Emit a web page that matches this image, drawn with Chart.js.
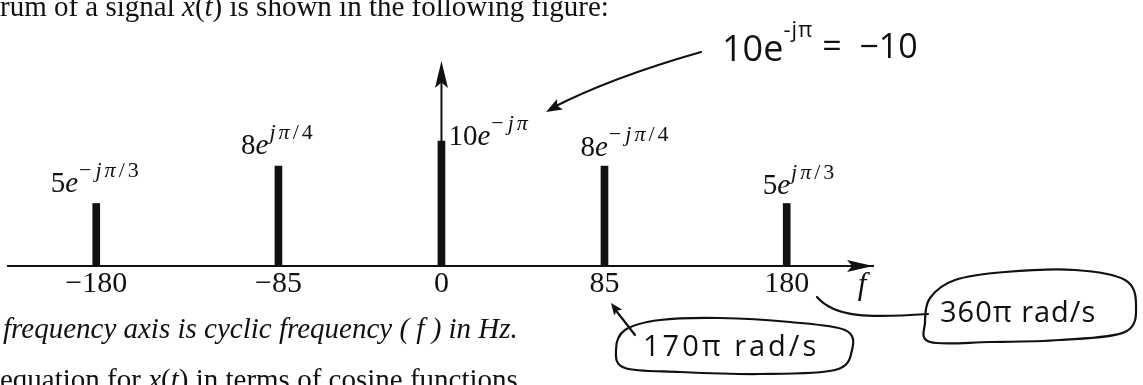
<!DOCTYPE html>
<html><head><meta charset="utf-8">
<script src="https://cdn.jsdelivr.net/npm/chart.js@4.4.1/dist/chart.umd.min.js"></script>
<style>html,body{margin:0;padding:0;background:#fff;overflow:hidden}#wrap{position:relative;width:1143px;height:385px}canvas{display:block}</style>
</head><body><div id="wrap"><canvas id="c" width="1143" height="385"></canvas></div>
<script>
// ---- data ----
const frequencies = [-180, -85, 0, 85, 180];
const magnitudes = [5, 8, 10, 8, 5];
const phases = ['−jπ/3', 'jπ/4', '−jπ', '−jπ/4', 'jπ/3'];
const tickLabels = ['−180', '−85', '0', '85', '180'];
const axisLabel = 'f';

const ink = '#111';
const serif = "'Liberation Serif','Times New Roman',serif";
const hand = "'Open Sans','DejaVu Sans',sans-serif";

function runsWidth(ctx, runs){let w=0;runs.forEach(r=>{ctx.font=r.font;w+=ctx.measureText(r.text).width+(r.gap||0);});return w;}
function drawRuns(ctx,x,y,runs,align){
  const w=runsWidth(ctx,runs);
  let cx=align==='center'?x-w/2:align==='right'?x-w:x;
  ctx.textBaseline='alphabetic';ctx.textAlign='left';
  runs.forEach(r=>{ctx.font=r.font;ctx.fillText(r.text,cx,y+(r.dy||0));cx+=ctx.measureText(r.text).width+(r.gap||0);});
}
function spaced(text,font,spacing,dy){return Array.from(text).map(ch=>({text:ch,font:font,gap:spacing,dy:dy||0}));}
function mathLabel(amp,phase){
  const runs=[{text:String(amp),font:`29px ${serif}`},{text:'e',font:`italic 29px ${serif}`,gap:1}];
  for(const ch of phase){const it=/[a-zπ]/.test(ch);runs.push({text:ch,font:`${it?'italic ':''}22px ${serif}`,dy:-15,gap:ch==='−'?4:3});}
  return runs;
}
function arrowHead(ctx,tx,ty,fx,fy,len,half){
  const a=Math.atan2(ty-fy,tx-fx);
  ctx.beginPath();ctx.moveTo(tx,ty);
  ctx.lineTo(tx-len*Math.cos(a)+half*Math.sin(a),ty-len*Math.sin(a)-half*Math.cos(a));
  ctx.lineTo(tx-len*0.8*Math.cos(a),ty-len*0.8*Math.sin(a));
  ctx.lineTo(tx-len*Math.cos(a)-half*Math.sin(a),ty-len*Math.sin(a)+half*Math.cos(a));
  ctx.closePath();ctx.fill();
}
function smoothClosed(ctx,pts){
  const n=pts.length;ctx.beginPath();ctx.moveTo(pts[0][0],pts[0][1]);
  for(let i=0;i<n;i++){const p0=pts[(i-1+n)%n],p1=pts[i],p2=pts[(i+1)%n],p3=pts[(i+2)%n];
    ctx.bezierCurveTo(p1[0]+(p2[0]-p0[0])/6,p1[1]+(p2[1]-p0[1])/6,p2[0]-(p3[0]-p1[0])/6,p2[1]-(p3[1]-p1[1])/6,p2[0],p2[1]);}
  ctx.closePath();ctx.stroke();
}

const axesPlugin={id:'axes',afterDatasetsDraw(chart){
  const ctx=chart.ctx,a=chart.chartArea,xs=chart.scales.x;const x0=xs.getPixelForValue(0);
  ctx.save();ctx.fillStyle=ink;ctx.strokeStyle=ink;ctx.lineWidth=2;
  ctx.beginPath();ctx.moveTo(x0,a.bottom);ctx.lineTo(x0,a.top+20);ctx.stroke();
  arrowHead(ctx,x0,a.top,x0,a.bottom,27,6.5);
  arrowHead(ctx,a.right,a.bottom,a.left,a.bottom,26,6);
  ctx.font=`italic 31px ${serif}`;ctx.textAlign='center';ctx.textBaseline='alphabetic';
  ctx.fillText(axisLabel,a.right-11,a.bottom+28);
  ctx.restore();
}};

const labelPlugin={id:'labels',afterDatasetsDraw(chart){
  const ctx=chart.ctx,meta=chart.getDatasetMeta(0);
  ctx.save();ctx.fillStyle=ink;
  meta.data.forEach((bar,i)=>{const f=frequencies[i];const runs=mathLabel(magnitudes[i],phases[i]);
    if(f===0)drawRuns(ctx,bar.x+7,bar.y+4,runs,'left');
    else if(f<0)drawRuns(ctx,bar.x,bar.y-12,runs,'center');
    else drawRuns(ctx,bar.x-24,bar.y-10,runs,'left');});
  ctx.restore();
}};

const textPlugin={id:'texts',afterDraw(chart){
  const ctx=chart.ctx;ctx.save();ctx.fillStyle=ink;
  const N=`29px ${serif}`,I=`italic 29px ${serif}`;
  drawRuns(ctx,0,16,[{text:'rum of a signal ',font:N},{text:'x',font:I},{text:'(',font:N},{text:'t',font:I},{text:') is shown in the following figure:',font:N}],'left');
  drawRuns(ctx,3,338,[{text:'frequency axis is cyclic frequency ( f ) in Hz.',font:I}],'left');
  drawRuns(ctx,0,389,[{text:'equation for ',font:N},{text:'x',font:I},{text:'(',font:N},{text:'t',font:I},{text:') in terms of cosine functions',font:N}],'left');
  // handwritten notes
  ctx.strokeStyle=ink;ctx.lineWidth=2.2;ctx.lineCap='round';
  const H=s=>`${s}px ${hand}`;
  drawRuns(ctx,722,61,[...spaced('10e',H(36),0),...spaced('-jπ',H(22),1,-24),{text:' =  −10',font:H(34),dy:-3}],'left');
  ctx.beginPath();ctx.moveTo(701,52);ctx.quadraticCurveTo(610,78,552,108);ctx.stroke();
  arrowHead(ctx,546,112,600,82,16,6);
  smoothClosed(ctx,[[625,330],[660,320],[720,318],[790,322],[845,330],[852,350],[835,370],[760,374],[680,372],[625,368],[616,350]]);
  drawRuns(ctx,643,356,spaced('170π rad/s',H(29),3),'left');
  ctx.beginPath();ctx.moveTo(635,335);ctx.lineTo(614,308);ctx.stroke();
  arrowHead(ctx,611,303,635,335,12,5);
  smoothClosed(ctx,[[930,298],[955,280],[1005,272],[1075,270],[1125,280],[1136,305],[1125,332],[1060,340],[990,342],[930,342],[925,322]]);
  drawRuns(ctx,940,322,spaced('360π rad/s',H(29),1),'left');
  ctx.beginPath();ctx.moveTo(817,297);ctx.bezierCurveTo(835,318,870,318,928,314);ctx.stroke();
  ctx.restore();
}};

new Chart(document.getElementById('c'),{
  type:'bar',
  data:{datasets:[{data:frequencies.map((f,i)=>({x:f,y:magnitudes[i]})),backgroundColor:ink,barThickness:7,borderWidth:0}]},
  options:{
    responsive:false,animation:false,events:[],
    layout:{padding:{left:8,right:270,top:61,bottom:83}},
    plugins:{legend:{display:false},tooltip:{enabled:false}},
    scales:{
      x:{type:'linear',min:-226,max:225,offset:false,
        grid:{display:false,drawTicks:false},
        border:{display:true,color:ink,width:2},
        afterBuildTicks:s=>{s.ticks=frequencies.map(v=>({value:v}));},
        ticks:{autoSkip:false,maxRotation:0,padding:0,color:ink,font:{family:serif,size:30},
          callback:(v)=>tickLabels[frequencies.indexOf(v)]}},
      y:{display:false,min:0,max:16.4}
    }
  },
  plugins:[axesPlugin,labelPlugin,textPlugin]
});
</script></body></html>
